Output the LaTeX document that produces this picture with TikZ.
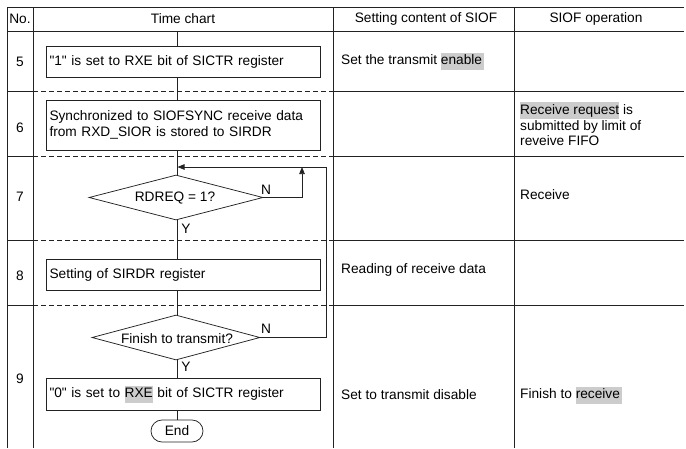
\documentclass[tikz,border=0pt]{standalone}
\usepackage{fontspec}
\setmainfont{Liberation Sans}
\newfontfamily\qfont{Liberation Sans}
\usetikzlibrary{shapes.geometric,shapes.misc,arrows.meta}
\definecolor{hlgray}{HTML}{CCCCCC}
\definecolor{linecol}{HTML}{222222}
\newcommand{\fsz}{\fontsize{13.7}{16}\selectfont}
\newcommand{\sdq}{{\qfont"}}
\newcommand{\hlw}[1]{{\setlength{\fboxsep}{0pt}\colorbox{hlgray}{\rule[-4.6pt]{0pt}{17pt}#1}}}
\begin{document}
\begin{tikzpicture}[x=1pt,y=-1pt,
  tline/.style={line width=0.8pt, draw=linecol},
  dline/.style={tline, dash pattern=on 5pt off 3pt},
  flowbox/.style={draw=linecol, line width=0.75pt, rectangle, minimum width=274pt,
     text width=267pt, inner xsep=3.5pt, inner ysep=0pt, align=left, font=\fsz},
  dia/.style={draw=linecol, line width=0.75pt, diamond, inner sep=0pt},
  txt/.style={inner sep=0pt, font=\fsz},
  conn/.style={line width=0.75pt, draw=linecol},
  arr/.style={conn, -{Triangle[length=7pt,width=5.5pt]}}]
\useasboundingbox (0,0) rectangle (686,448);

% table grid
\draw[tline] (7,7) -- (684,7);
\draw[tline] (7,31) -- (684,31);
\foreach \xx in {7,33,333,514} \draw[tline] (\xx,7) -- (\xx,448);
\foreach \yy in {91,156,240,305} {
  \draw[tline] (7,\yy) -- (33,\yy);
  \draw[dline] (33,\yy) -- (333,\yy);
  \draw[tline] (333,\yy) -- (684,\yy);
}

% header
\node[txt] (hno) at (20,19) {No.};
\node[txt] (htc) at (183,19) {Time chart};
\node[txt] (hsc) at (426,19) {Setting content of SIOF};
\node[txt] (hop) at (596,19) {SIOF operation};

% row numbers
\node[txt] (n5) at (20,62) {5};
\node[txt] (n6) at (20,128) {6};
\node[txt] (n7) at (20,197) {7};
\node[txt] (n8) at (20,276) {8};
\node[txt] (n9) at (20,379) {9};

% flow chart
\coordinate (cx) at (177,0);
\coordinate (top) at (177,31);
\node[flowbox, minimum height=31pt] (b5) at (183,61.5) {\sdq1\sdq{} is set to RXE bit of SICTR register};
\node[flowbox, minimum height=50pt] (b6) at (183,125) {Synchronized to SIOFSYNC receive data\\from RXD\_SIOR is stored to SIRDR};
\node[dia, minimum width=174pt, minimum height=45pt] (d7) at (176,197.5) {};
\node[txt] (d7t) at (175,198) {RDREQ = 1?};
\node[flowbox, minimum height=31pt] (b8) at (183,274.5) {Setting of SIRDR register};
\node[dia, minimum width=168pt, minimum height=45pt] (d9) at (176,337.5) {};
\node[txt] (d9t) at (177,339) {Finish to transmit?};
\node[flowbox, minimum height=32pt] (b9) at (183,394) {\sdq0\sdq{} is set to \hlw{RXE} bit of SICTR register};
\node[draw=linecol, line width=0.75pt, rounded rectangle, minimum width=52pt, minimum height=22pt, inner sep=0pt, font=\fsz] (end) at (177,431) {End};

\draw[conn] (top) -- (b5.north -| cx);
\draw[conn] (b5.south -| cx) -- (b6.north -| cx);
\draw[conn] (b6.south -| cx) -- (d7.north -| cx);
\draw[conn] (d7.south -| cx) -- (b8.north -| cx);
\draw[conn] (b8.south -| cx) -- (d9.north -| cx);
\draw[conn] (d9.south -| cx) -- (b9.north -| cx);
\draw[conn] (b9.south -| cx) -- (end.north);

\coordinate (nt) at (302,167);
\coordinate (lr) at (326,167);
\coordinate (la) at (177.5,167);
\draw[arr] (d7.east) -| (nt);
\draw[arr] (d9.east) -| (lr) -- (la);

\node[txt] (d7n) at (266,190) {N};
\node[txt] (d7y) at (186,229) {Y};
\node[txt] (d9n) at (266,329) {N};
\node[txt] (d9y) at (186,367) {Y};

% setting content column
\node[txt, anchor=west] (s5) at (341,61) {Set the transmit \hlw{enable\,}};
\node[txt, anchor=west] (s8) at (341,270) {Reading of receive data};
\node[txt, anchor=west] (s9) at (341,395) {Set to transmit disable};

% operation column
\node[txt, anchor=west, align=left, font=\fontsize{13.7}{15.5}\selectfont] (o6) at (520,124) {\hlw{Receive request} is\\submitted by limit of\\reveive FIFO};
\node[txt, anchor=west] (o7) at (520,195) {Receive};
\node[txt, anchor=west] (o9) at (520,395) {Finish to \hlw{receive\,}};
\end{tikzpicture}
\end{document}
